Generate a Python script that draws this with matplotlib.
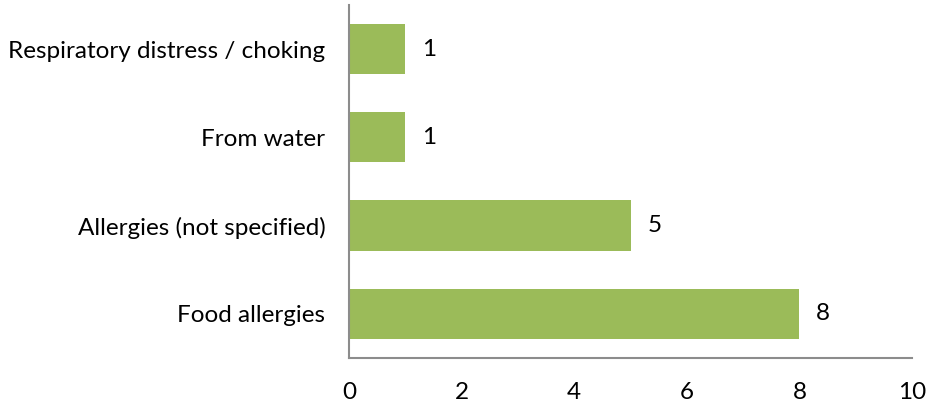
import matplotlib.pyplot as plt

categories = ['Food allergies', 'Allergies (not specified)', 'From water',
              'Respiratory distress / choking']
counts = [8, 5, 1, 1]
xticks = [0, 2, 4, 6, 8, 10]

plt.rcParams['font.family'] = ['Lato', 'DejaVu Sans']

fig = plt.figure(figsize=(9.26, 4.05), dpi=100)
ax = fig.add_axes([0.3769, 0.116, 0.608, 0.872])

bars = ax.barh(range(len(categories)), counts, height=0.57, color='#9BBB59')
for b, v in zip(bars, counts):
    ax.annotate(str(v), (b.get_width(), b.get_y() + b.get_height() / 2),
                xytext=(12, 0), textcoords='offset points', fontsize=17.5,
                va='center', ha='left', color='black')

ax.set_xlim(0, 10)
ax.set_ylim(-0.5, len(categories) - 0.5)
ax.set_xticks(xticks)
ax.set_yticks(range(len(categories)))
ax.set_yticklabels(categories)
ax.tick_params(axis='both', length=0, labelsize=17.5)
ax.tick_params(axis='y', pad=17)
ax.tick_params(axis='x', pad=17)

for s in ['top', 'right']:
    ax.spines[s].set_visible(False)
for s in ['left', 'bottom']:
    ax.spines[s].set_color('#8c8c8c')
    ax.spines[s].set_linewidth(1.5)

fig.savefig('out.png', dpi=100)
